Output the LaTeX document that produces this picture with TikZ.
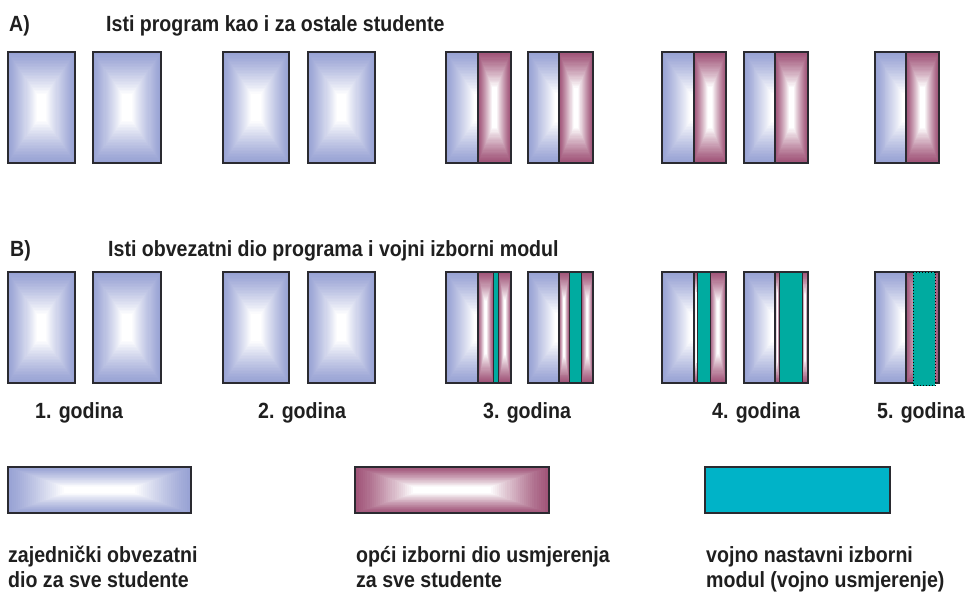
\documentclass[tikz,border=0pt]{standalone}
\usepackage{fontspec}
\setmainfont{Liberation Sans}[FakeStretch=0.89]
\definecolor{blu}{RGB}{152,162,212}
\definecolor{pur}{RGB}{160,84,120}
\definecolor{tealb}{RGB}{0,171,160}
\definecolor{teall}{RGB}{0,179,200}
\definecolor{edgec}{RGB}{42,42,48}
\newcommand\shadebox[5]{%
  \pgfmathsetmacro\gw{(#3)-(#1)}%
  \pgfmathsetmacro\gh{(#4)-(#2)}%
  \pgfmathsetmacro\gs{min(\gw,\gh)}%
  \pgfmathsetmacro\gr{(max(\gw,\gh)/\gs)^0.75}%
  \pgfmathsetmacro\gfx{ifthenelse(\gw<=\gh,1,\gr)}%
  \pgfmathsetmacro\gfy{ifthenelse(\gw<=\gh,\gr,1)}%
  \foreach \k in {0,...,28}{%
    \pgfmathsetmacro\gt{\k/28}%
    \pgfmathsetmacro\gdd{\gt*0.86*\gs/2}%
    \pgfmathsetmacro\gdx{min(\gfx*\gdd,\gw/2)}%
    \pgfmathsetmacro\gdy{min(\gfy*\gdd,\gh/2)}%
    \pgfmathtruncatemacro\gpc{max(0,100*(1-\gt^1.2))}%
    \fill[#5!\gpc!white] ({#1+\gdx},{#2+\gdy}) rectangle ({#3-\gdx},{#4-\gdy});
  }}
\newcommand\halfbox[5]{%
  \begin{scope}
    \clip (#1,#2) rectangle (#3,#4);
    \shadebox{#1}{#2}{2*#3-#1}{#4}{#5}
  \end{scope}}
\tikzset{
  lbl/.style={font=\bfseries\fontsize{22}{26}\selectfont, inner sep=0pt, text=black!88, anchor=base west},
  frame/.style={draw=edgec, line width=1.1pt},
  tealstrip/.style={fill=tealb, draw=edgec, line width=1pt},
}
\begin{document}
\begin{tikzpicture}[x=1pt,y=-1pt]
\useasboundingbox[fill=white] (0,0) rectangle (972,595);

% ---------- headings ----------
\node[lbl] (hA) at (9,31) {A)};
\node[lbl] (tA) at (106,31) {Isti program kao i za ostale studente};
\node[lbl] (hB) at (10,256) {B)};
\node[lbl] (tB) at (108,256) {Isti obvezatni dio programa i vojni izborni modul};

% ---------- full blue boxes, rows A and B ----------
\foreach \xa/\xb in {8/75, 93/161, 223/289, 308/375}{
  \foreach \ya/\yb in {52/163, 272/383}{
    \shadebox{\xa}{\ya}{\xb}{\yb}{blu}
    \draw[frame] (\xa,\ya) rectangle (\xb,\yb);
  }
}

% ---------- row A split boxes ----------
\foreach \xa/\xm/\xb in {446/478/511, 528/559/593, 662/694/726, 744/775/808, 875/906/939}{
  \halfbox{\xa}{52}{\xm}{163}{blu}
  \shadebox{\xm}{52}{\xb}{163}{pur}
  \draw[frame] (\xa,52) rectangle (\xb,163);
  \draw[frame] (\xm,52) -- (\xm,163);
}

% ---------- row B split boxes with military module ----------
\foreach \xa/\xm/\pa/\pb/\xb in {446/478/493.3/498.7/511, 528/559/569.3/581.7/593, 662/694/697.7/710/726, 744/775/779.3/802/808}{
  \halfbox{\xa}{272}{\xm}{383}{blu}
  \shadebox{\xm}{272}{\pa}{383}{pur}
  \shadebox{\pb}{272}{\xb}{383}{pur}
  \draw[tealstrip] (\pa,272) rectangle (\pb,383);
  \draw[frame] (\xa,272) rectangle (\xb,383);
  \draw[frame] (\xm,272) -- (\xm,383);
}
% year 5, row B
\halfbox{875}{272}{906}{383}{blu}
\shadebox{906}{272}{939}{383}{pur}
\draw[frame] (875,272) rectangle (939,383);
\draw[frame] (906,272) -- (906,383);
\fill[tealb] (913,272) rectangle (935,385.5);
\draw[black, line width=1pt, dotted] (913,272) rectangle (935,385.5);

% ---------- year labels ----------
\node[lbl] (g1) at (35,418) {1. godina};
\node[lbl] (g2) at (258,418) {2. godina};
\node[lbl] (g3) at (483,418) {3. godina};
\node[lbl] (g4) at (712,418) {4. godina};
\node[lbl] (g5) at (877,418) {5. godina};

% ---------- legend ----------
\shadebox{8}{467}{191}{513}{blu}
\draw[frame] (8,467) rectangle (191,513);
\shadebox{355}{467}{549}{513}{pur}
\draw[frame] (355,467) rectangle (549,513);
\draw[frame, fill=teall] (705,467) rectangle (890,513);

\node[lbl] (l1a) at (8,562) {zajednički obvezatni};
\node[lbl] (l1b) at (8,587) {dio za sve studente};
\node[lbl] (l2a) at (356,562) {opći izborni dio usmjerenja};
\node[lbl] (l2b) at (356,587) {za sve studente};
\node[lbl] (l3a) at (706,562) {vojno nastavni izborni};
\node[lbl] (l3b) at (706,587) {modul (vojno usmjerenje)};
\end{tikzpicture}
\end{document}
